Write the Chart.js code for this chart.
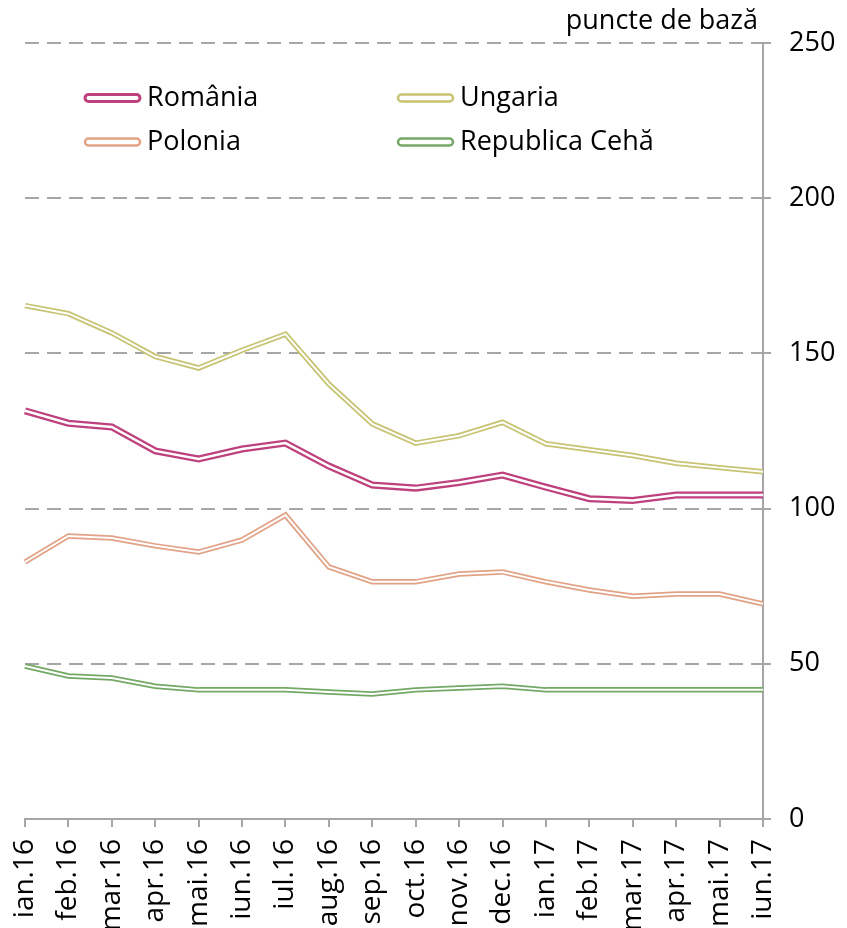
<!DOCTYPE html>
<html>
<head>
<meta charset="utf-8">
<script src="https://cdn.jsdelivr.net/npm/chart.js@4.4.1/dist/chart.umd.min.js"></script>
<style>
  html, body { margin: 0; padding: 0; background: #fff; }
  #wrap { width: 847px; height: 928px; position: relative; }
</style>
</head>
<body>
<div id="wrap"><canvas id="chart"></canvas></div>
<script>
// luni
const luni = ['ian.16', 'feb.16', 'mar.16', 'apr.16', 'mai.16', 'iun.16', 'iul.16', 'aug.16', 'sep.16',
  'oct.16', 'nov.16', 'dec.16', 'ian.17', 'feb.17', 'mar.17', 'apr.17', 'mai.17', 'iun.17'];

// puncte de baza
const romania = [131.5, 127.5, 126.3, 118.6, 116.0, 119.2, 121.1, 113.7, 107.6,
  106.6, 108.4, 110.8, 106.9, 103.2, 102.6, 104.4, 104.4, 104.4];
const ungaria = [165.4, 162.8, 156.6, 149.0, 145.3, 151.0, 156.2, 140.1, 127.3,
  121.1, 123.5, 127.8, 120.9, 119.0, 117.1, 114.6, 113.2, 111.9];
const polonia = [82.8, 91.2, 90.5, 88.0, 86.0, 89.9, 97.9, 81.2, 76.4,
  76.4, 78.9, 79.6, 76.4, 73.8, 71.8, 72.5, 72.5, 69.3];
const cehia = [49.3, 46.1, 45.4, 42.8, 41.6, 41.6, 41.6, 40.9, 40.3,
  41.6, 42.2, 42.8, 41.6, 41.6, 41.6, 41.6, 41.6, 41.6];

const yTicks = [0, 50, 100, 150, 200, 250];

const serii = [
  { nume: 'România', date: romania, culoare: '#BE417D', lat: 7, alb: 2.5 },
  { nume: 'Ungaria', date: ungaria, culoare: '#C8C373', lat: 5.5, alb: 2 },
  { nume: 'Polonia', date: polonia, culoare: '#E2A286', lat: 5.5, alb: 2 },
  { nume: 'Republica Cehă', date: cehia, culoare: '#74A866', lat: 5.5, alb: 2 }
];

const FONT = '"Open Sans", Lato, sans-serif';
const FSIZE = 27;
const GRI = '#A6A6A6';

// fiecare serie = linie colorata groasa + linie alba subtire deasupra (linie dubla)
const datasets = [];
serii.forEach((s, i) => {
  datasets.push({
    label: s.nume, data: s.date, borderColor: s.culoare, borderWidth: s.lat,
    pointRadius: 0, tension: 0, fill: false, order: 2 * i + 1
  });
  datasets.push({
    label: s.nume + '_alb', data: s.date, borderColor: '#ffffff', borderWidth: s.alb,
    pointRadius: 0, tension: 0, fill: false, order: 2 * i
  });
});

const legendaSiTitlu = {
  id: 'legendaSiTitlu',
  afterDraw(chart) {
    const ctx = chart.ctx;
    const a = chart.chartArea;
    ctx.save();
    ctx.font = FSIZE + 'px ' + FONT;
    ctx.fillStyle = '#000';
    ctx.textBaseline = 'middle';

    // titlu axa
    ctx.textAlign = 'right';
    ctx.fillText('puncte de bază', a.right - 5, 21);

    // legenda
    ctx.textAlign = 'left';
    const pozitii = [
      [a.left + 60, a.top + 55], [a.left + 373, a.top + 55],
      [a.left + 60, a.top + 99], [a.left + 373, a.top + 99]
    ];
    serii.forEach((s, k) => {
      const [x, y] = pozitii[k];
      ctx.lineWidth = k === 0 ? 3 : 2.5;
      ctx.strokeStyle = s.culoare;
      ctx.fillStyle = '#fff';
      ctx.beginPath();
      ctx.roundRect(x, y - 3.5, 55, 7, 3.5);
      ctx.fill();
      ctx.stroke();
      ctx.fillStyle = '#000';
      ctx.fillText(s.nume, x + 62, y);
    });
    ctx.restore();
  }
};

new Chart(document.getElementById('chart'), {
  type: 'line',
  data: { labels: luni, datasets: datasets },
  plugins: [legendaSiTitlu],
  options: {
    responsive: true,
    maintainAspectRatio: false,
    animation: false,
    layout: { padding: { top: 43, left: 25, right: 0, bottom: 0 } },
    plugins: {
      legend: { display: false },
      tooltip: { enabled: false }
    },
    scales: {
      x: {
        offset: false,
        grid: { drawOnChartArea: false, drawTicks: true, tickLength: 8, color: GRI, lineWidth: 2 },
        border: { display: true, color: GRI, width: 2 },
        ticks: {
          autoSkip: false, minRotation: 90, maxRotation: 90, padding: 12,
          color: '#000', font: { family: FONT, size: 28 }
        },
        afterFit(scale) { scale.height = 109; }
      },
      y: {
        position: 'right',
        min: 0,
        max: 250,
        afterBuildTicks(scale) { scale.ticks = yTicks.map(v => ({ value: v })); },
        grid: { color: GRI, lineWidth: 2, tickLength: 8 },
        border: { display: true, color: GRI, width: 2, dash: [14, 8] },
        ticks: { padding: 18, color: '#000', font: { family: FONT, size: FSIZE } },
        afterFit(scale) { scale.width = 84; }
      }
    }
  }
});
</script>
</body>
</html>
